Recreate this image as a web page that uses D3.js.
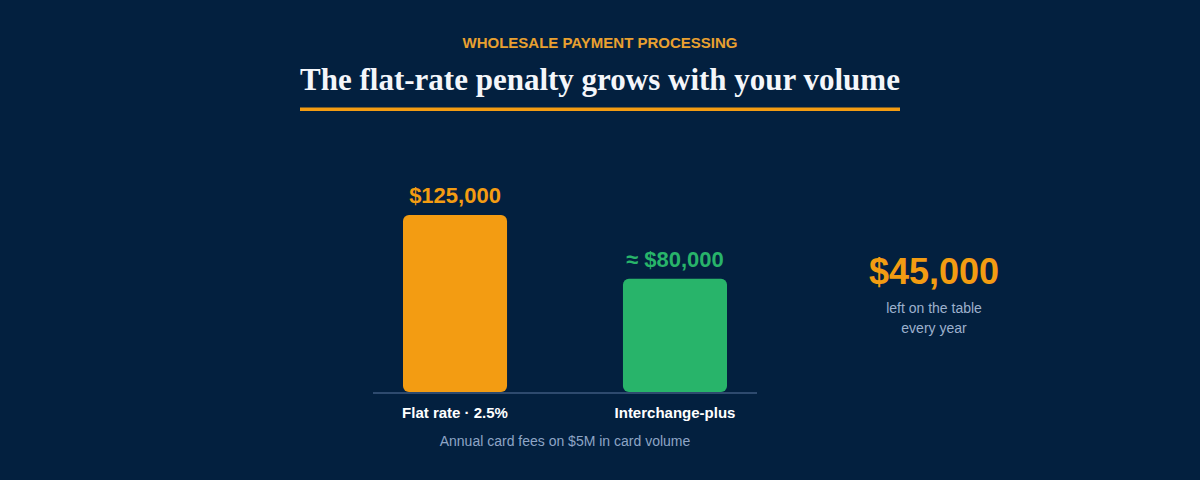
<!DOCTYPE html>
<html>
<head>
<meta charset="utf-8">
<script src="https://cdn.jsdelivr.net/npm/d3@7"></script>
<style>
  html, body { margin: 0; padding: 0; background: #03203f; }
  svg { display: block; font-family: "Liberation Sans", Arial, sans-serif; }
</style>
</head>
<body>
<svg id="chart"></svg>
<script>
// ── Data ─────────────────────────────────────────────────────────────
const CATEGORIES = ["Flat rate · 2.5%", "Interchange-plus"];
const FEES       = [125000, 80000];
const VALUE_LBLS = ["$125,000", "≈ $80,000"];
const BAR_COLORS = ["#f39c12", "#28b46a"];
const GAP_VALUE  = "$45,000";
const GAP_NOTE   = ["left on the table", "every year"];

const VW = 1200, VH = 480;
const ORANGE = "#f39c12";

const svg = d3.select("#chart").attr("width", VW).attr("height", VH);

svg.append("rect").attr("width", VW).attr("height", VH).attr("fill", "#03203f");

// Header
svg.append("text")
  .attr("x", 600).attr("y", 48)
  .attr("text-anchor", "middle")
  .attr("fill", "#e9a030")
  .style("font-size", "15px").style("font-weight", "bold")
  .text("WHOLESALE PAYMENT PROCESSING");

svg.append("text")
  .attr("x", 600).attr("y", 90)
  .attr("text-anchor", "middle")
  .attr("fill", "#f4f6fa")
  .style("font-family", "'Liberation Serif', 'Times New Roman', serif")
  .style("font-size", "31px").style("font-weight", "bold")
  .text("The flat-rate penalty grows with your volume");

svg.append("rect")
  .attr("x", 300).attr("y", 107.5).attr("width", 600).attr("height", 3.5)
  .attr("fill", ORANGE);

// Scales
const x = d3.scaleBand().domain(CATEGORIES).range([403, 727])
  .paddingInner(0.527).paddingOuter(0);
const y = d3.scaleLinear().domain([0, 125000]).range([392, 215]);

const rows = CATEGORIES.map((c, i) => ({
  cat: c, fee: FEES[i], lbl: VALUE_LBLS[i], color: BAR_COLORS[i]
}));

// Bars
svg.append("g").selectAll("rect")
  .data(rows)
  .join("rect")
  .attr("x", d => x(d.cat))
  .attr("y", d => y(d.fee))
  .attr("width", x.bandwidth())
  .attr("height", d => y(0) - y(d.fee))
  .attr("rx", 6)
  .attr("fill", d => d.color);

// Baseline
svg.append("line")
  .attr("x1", 373).attr("x2", 757)
  .attr("y1", y(0) + 1).attr("y2", y(0) + 1)
  .attr("stroke", "#2e4a6e").attr("stroke-width", 2);

// Value labels
svg.append("g").selectAll("text")
  .data(rows)
  .join("text")
  .attr("x", d => x(d.cat) + x.bandwidth() / 2)
  .attr("y", d => y(d.fee) - 12)
  .attr("text-anchor", "middle")
  .attr("fill", d => d.color)
  .style("font-size", "22px").style("font-weight", "bold")
  .text(d => d.lbl);

// Category labels
svg.append("g").selectAll("text")
  .data(rows)
  .join("text")
  .attr("x", d => x(d.cat) + x.bandwidth() / 2)
  .attr("y", y(0) + 26)
  .attr("text-anchor", "middle")
  .attr("fill", "#ffffff")
  .style("font-size", "15px").style("font-weight", "bold")
  .text(d => d.cat);

svg.append("text")
  .attr("x", 565).attr("y", 446)
  .attr("text-anchor", "middle")
  .attr("fill", "#8ea5c6")
  .style("font-size", "14px")
  .text("Annual card fees on $5M in card volume");

// Gap annotation
svg.append("text")
  .attr("x", 934).attr("y", 284)
  .attr("text-anchor", "middle")
  .attr("fill", ORANGE)
  .style("font-size", "36px").style("font-weight", "bold")
  .text(GAP_VALUE);

svg.append("g").selectAll("text")
  .data(GAP_NOTE)
  .join("text")
  .attr("x", 934).attr("y", (d, i) => 313 + i * 20)
  .attr("text-anchor", "middle")
  .attr("fill", "#9db1cd")
  .style("font-size", "14px")
  .text(d => d);
</script>
</body>
</html>
